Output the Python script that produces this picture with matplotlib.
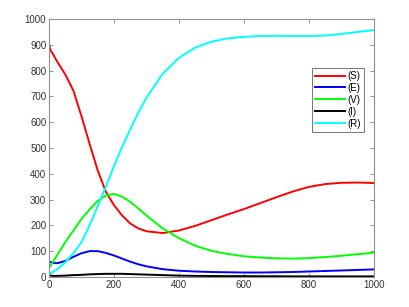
import numpy as np
import matplotlib.pyplot as plt

plt.rcParams['font.family'] = ['Liberation Sans', 'DejaVu Sans']

# values
t = [0, 5, 10, 25, 50, 75, 100, 125, 150, 175, 200, 225, 250, 275, 300,
     350, 400, 450, 500, 550, 600, 650, 700, 750, 800, 850, 900, 950, 1000]

S = [900, 878, 868, 835, 785, 722, 622, 515, 412, 330, 278, 238, 207, 188, 177,
     170, 180, 198, 220, 242, 263, 286, 309, 331, 349, 360, 365, 366, 364]
E = [60, 57, 55, 53, 62, 78, 92, 100, 100, 93, 83, 71, 59, 49, 41,
     30, 24, 21, 19, 18, 17, 17, 18, 19, 21, 23, 25, 27, 29]
V = [35, 45, 55, 85, 135, 180, 225, 262, 295, 315, 322, 311, 291, 265, 238,
     188, 150, 121, 101, 89, 80, 75, 72, 71, 73, 77, 82, 88, 94]
I = [8, 5, 4, 4, 5, 7, 8, 10, 11, 12, 12, 12, 11, 10, 9,
     7, 5, 4, 3.5, 3, 3, 2.5, 2.5, 2, 2, 2, 2, 2, 2]
R = [10, 15, 18, 30, 57, 92, 135, 200, 275, 350, 430, 505, 572, 638, 695,
     788, 850, 889, 912, 925, 931, 934, 935, 934, 934, 936, 942, 950, 957]

series = [('(S)', S, '#ff0000'), ('(E)', E, '#0000ff'), ('(V)', V, '#00ff00'),
          ('(I)', I, '#000000'), ('(R)', R, '#00ffff')]

fig = plt.figure(figsize=(4.09, 3.07), dpi=100)
ax = fig.add_axes([0.12, 0.098, 0.794, 0.84])

for name, vals, col in series:
    ax.plot(t, vals, color=col, lw=1.4, label=name)

ax.set_xlim(0, 1000)
ax.set_ylim(0, 1000)
ax.set_xticks(np.arange(0, 1001, 200))
ax.set_yticks(np.arange(0, 1001, 100))
ax.tick_params(direction='in', length=3, width=0.6, colors='#808080',
               labelcolor='#333333', labelsize=7, top=True, right=True, pad=2)
for sp in ax.spines.values():
    sp.set_color('#909090')
    sp.set_linewidth(0.8)

leg = ax.legend(loc='upper left', bbox_to_anchor=(0.809, 0.81), fontsize=7,
                fancybox=False, framealpha=1, edgecolor='#606060',
                handlelength=3.1, handletextpad=0.3, labelspacing=0.2,
                borderpad=0.3, borderaxespad=0)
leg.get_frame().set_linewidth(0.6)

fig.savefig('out.png', dpi=100)
